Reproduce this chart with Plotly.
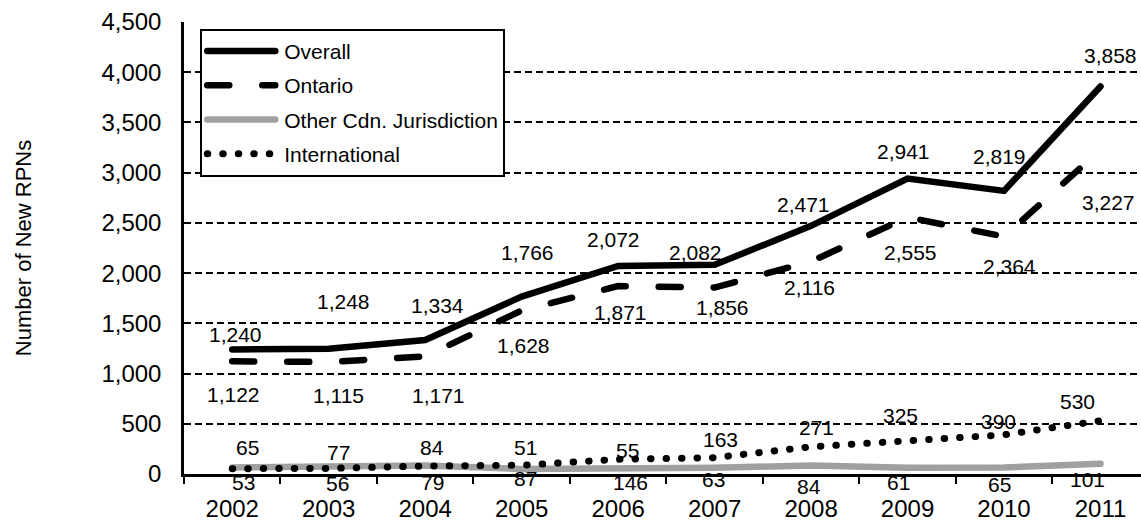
import plotly.graph_objects as go

years = ["2002", "2003", "2004", "2005", "2006", "2007", "2008", "2009", "2010", "2011"]
overall = [1240, 1248, 1334, 1766, 2072, 2082, 2471, 2941, 2819, 3858]
ontario = [1122, 1115, 1171, 1628, 1871, 1856, 2116, 2555, 2364, 3227]
other_cdn = [65, 77, 84, 51, 55, 63, 84, 61, 65, 101]
international = [53, 56, 79, 87, 146, 163, 271, 325, 390, 530]

# label offsets (pixels, dx right, dy down) mimicking the original manual label placement
overall_off = [(3, -15), (15, -47), (12, -35), (6, -44), (-5, -26), (-19, -12), (-8, -21), (-4, -27), (-5, -34), (10, -31)]
ontario_off = [(1, 33), (10, 33), (13, 39), (2, 35), (2, 26), (8, 20), (-2, 26), (3, 35), (5, 30), (8, 53)]
other_off = [(15, -20), (10, -14), (7, -18), (4, -21), (9, -18), (-1, 12), (-2, 21), (-9, 15), (-5, 17), (-13, 16)]
intl_off = [(11, 14), (9, 15), (7, 16), (4, 13), (12, 23), (6, -18), (5, -19), (-7, -26), (-6, -13), (-23, -19)]

FONT = "Liberation Sans, Arial, sans-serif"

fig = go.Figure()
fig.add_trace(go.Scatter(x=years, y=overall, name="Overall", mode="lines",
                         line=dict(color="black", width=6.5), legendgroup="a"))
fig.add_trace(go.Scatter(x=years, y=ontario, name="Ontario", mode="lines",
                         line=dict(color="black", width=6.5, dash="22px,33px"), legendgroup="b"))
fig.add_trace(go.Scatter(x=years, y=other_cdn, name="Other Cdn. Jurisdiction", mode="lines",
                         line=dict(color="#a0a0a0", width=6.5), legendgroup="c"))
fig.add_trace(go.Scatter(x=years, y=international, name="International", mode="lines",
                         line=dict(color="black", width=7, dash="0.5px,15px"), legendgroup="d"))

for vals, offs in [(overall, overall_off), (ontario, ontario_off), (other_cdn, other_off), (international, intl_off)]:
    for i, (v, (dx, dy)) in enumerate(zip(vals, offs)):
        fig.add_annotation(x=i, y=v, xref="x", yref="y", text=f"{v:,}", showarrow=False,
                           xshift=dx, yshift=-dy, font=dict(size=21, color="black", family=FONT))

fig.update_layout(
    width=1141, height=521,
    margin=dict(l=184, r=0, t=22, b=47, autoexpand=False),
    paper_bgcolor="white", plot_bgcolor="white",
    font=dict(family=FONT, color="black"),
    showlegend=True,
    legend=dict(x=0.017, y=0.985, xanchor="left", yanchor="top",
                bgcolor="white", bordercolor="black", borderwidth=2,
                font=dict(size=21, family=FONT), traceorder="grouped", tracegroupgap=4,
                itemwidth=72),
    xaxis=dict(type="category", range=[-0.5, 9.42], showgrid=False, automargin=False,
               showline=True, linecolor="black", linewidth=2.5,
               ticks="outside", tickson="boundaries", ticklen=7, tickwidth=1.5, tickcolor="black",
               tickfont=dict(size=24, family=FONT), ticklabelstandoff=11),
    yaxis=dict(range=[0, 4500], tickvals=[0, 500, 1000, 1500, 2000, 2500, 3000, 3500, 4000, 4500],
               tickformat=",d", showgrid=True, gridcolor="black", gridwidth=1.5, griddash="7px,4px",
               showline=True, linecolor="black", linewidth=2.5, ticks="", zeroline=False,
               automargin=False,
               tickfont=dict(size=24, family=FONT), ticklabelstandoff=15,
               title=dict(text="Number of New RPNs", font=dict(size=22, family=FONT), standoff=64)),
)

post = """
document.body.style.margin = '0';
document.body.style.padding = '0';
var gd = document.getElementById('{plot_id}');
function fixLines(){
  gd.querySelectorAll('path.js-line').forEach(function(p){ p.style.strokeLinecap = 'round'; });
  gd.querySelectorAll('.legendlines path').forEach(function(p){
    p.setAttribute('d', 'M5,0h68'); p.style.strokeLinecap = 'round';
  });
}
fixLines();
setTimeout(fixLines, 50);
setTimeout(fixLines, 300);
"""
fig.write_html("out.html", post_script=post, config={"displayModeBar": False})
